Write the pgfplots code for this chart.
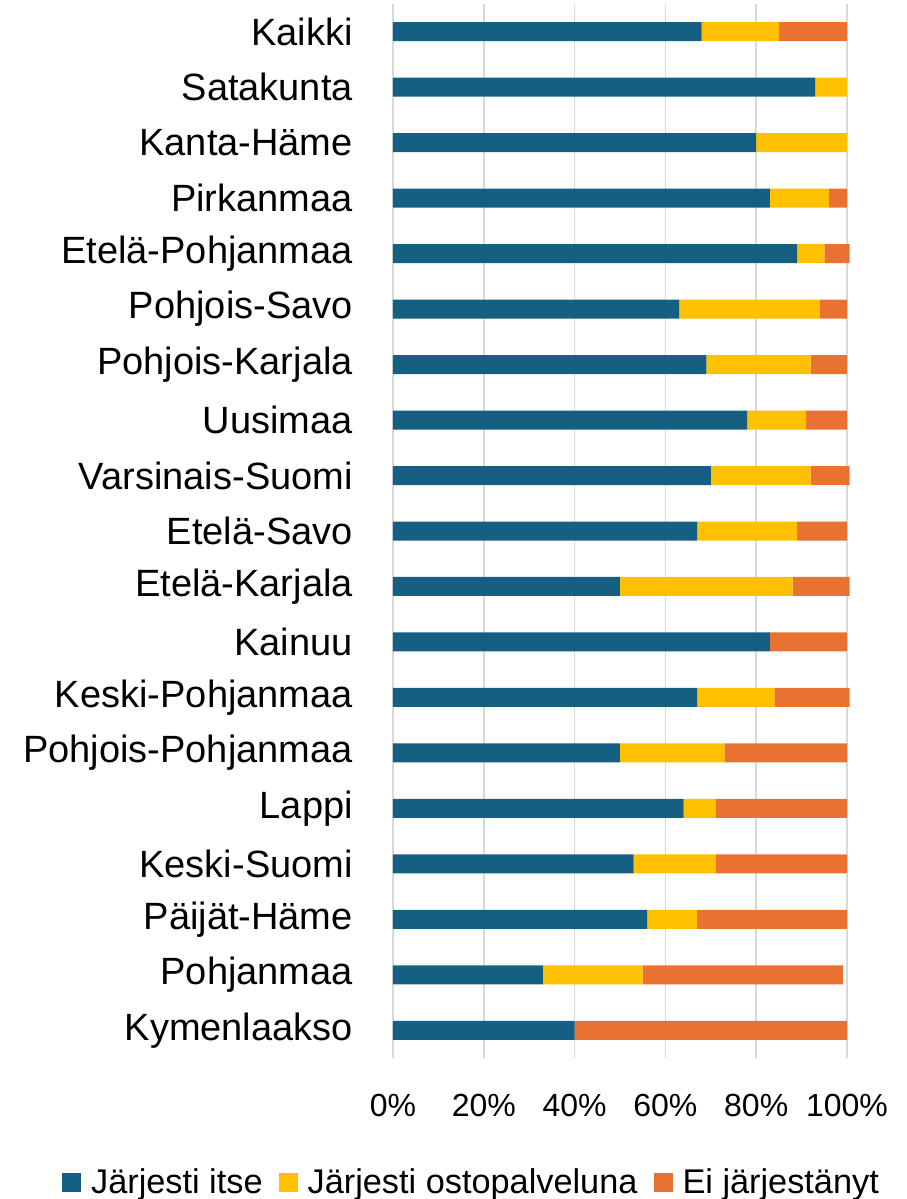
\documentclass[border=0pt]{standalone}
\usepackage{fontspec}
\setmainfont{Liberation Sans}
\usepackage{pgfplots}
\pgfplotsset{compat=1.18}
\definecolor{cA}{HTML}{156082}
\definecolor{cB}{HTML}{FFC000}
\definecolor{cC}{HTML}{E97132}
\definecolor{gridc}{HTML}{D9D9D9}
\pgfplotsset{sqleg/.style={legend image code/.code={\fill[##1] (0pt,-11pt) rectangle (19pt,8pt);}}}
\begin{document}
\begin{tikzpicture}
\useasboundingbox (-393pt,-141pt) rectangle (514pt,1058pt);
\begin{axis}[
  scale only axis, width=454pt, height=1054pt,
  xbar stacked, bar width=19pt,
  xmin=0, xmax=100, ymin=-0.5, ymax=18.5, y dir=reverse,
  clip=false,
  axis line style={draw=none},
  major tick length=0pt,
  xmajorgrids, grid style={gridc, line width=1.5pt},
  xtick={0,20,...,100},
  xticklabel={\pgfmathprintnumber{\tick}\%},
  /pgf/number format/assume math mode=true,
  ytick={0,...,18},
  yticklabels={Kaikki,Satakunta,Kanta-Häme,Pirkanmaa,Etelä-Pohjanmaa,Pohjois-Savo,Pohjois-Karjala,Uusimaa,Varsinais-Suomi,Etelä-Savo,Etelä-Karjala\hspace{8pt},Kainuu,Keski-Pohjanmaa,Pohjois-Pohjanmaa,Lappi,Keski-Suomi,Päijät-Häme,Pohjanmaa,Kymenlaakso},
  yticklabel style={font=\fontsize{38}{40}\selectfont, anchor=east, inner sep=0pt, xshift=-40pt},
  xticklabel style={font=\fontsize{32}{34}\selectfont, anchor=north, inner sep=0pt, yshift=-36pt},
  legend columns=-1,
  legend style={at={(0.1707,-0.1170)}, anchor=center, draw=none, fill=none,
    font=\fontsize{34.3}{37}\selectfont, inner sep=0pt,
    nodes={inner sep=0pt},
    /tikz/every odd column/.append style={column sep=10pt},
    /tikz/every even column/.append style={column sep=16pt}},
]
\addplot[fill=cA, draw=none, sqleg] coordinates {
(68,0) (93,1) (80,2) (83,3) (89,4) (63,5) (69,6) (78,7) (70,8) (67,9) (50,10) (83,11) (67,12) (50,13) (64,14) (53,15) (56,16) (33,17) (40,18)};
\addplot[fill=cB, draw=none, sqleg] coordinates {
(17,0) (7,1) (20,2) (13,3) (6,4) (31,5) (23,6) (13,7) (22,8) (22,9) (38,10) (0,11) (17,12) (23,13) (7,14) (18,15) (11,16) (22,17) (0,18)};
\addplot[fill=cC, draw=none, sqleg] coordinates {
(15,0) (0,1) (0,2) (4,3) (5.6,4) (6,5) (8,6) (9,7) (8.6,8) (11,9) (12.6,10) (17,11) (16.6,12) (27,13) (29,14) (29,15) (33,16) (44.1,17) (60,18)};
\legend{Järjesti itse, Järjesti ostopalveluna, Ei järjestänyt}
\end{axis}
\end{tikzpicture}
\end{document}
